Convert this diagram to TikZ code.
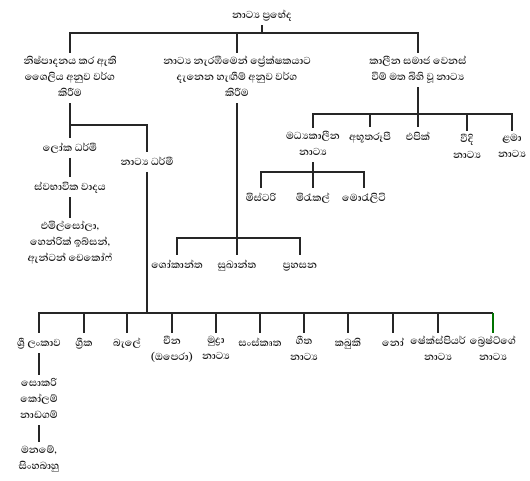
\documentclass[tikz,border=0pt]{standalone}
\usepackage{fontspec}
\newfontfamily\sinhalafont[Script=Sinhala]{Abhaya Libre}
\begin{document}
\begin{tikzpicture}[x=1pt,y=-1pt,
  t/.style={font=\sinhalafont\bfseries\fontsize{13}{16}\selectfont, align=center, inner sep=0pt, outer sep=3.5pt, anchor=north, text=black!90,
    execute at begin node={\rule{0pt}{10pt}}, execute at end node={\rule[-3pt]{0pt}{3pt}}},
  ln/.style={line width=1.5pt, draw=black!85},
  gln/.style={line width=1.5pt, draw=green!45!black}]
\useasboundingbox (0,0) rectangle (530,481);
\fill[white] (0,0) rectangle (530,481);
% nodes
\node[t] (top) at (262,5) {නාට්^^^^200dය ප්^^^^200dරභේද};
\node[t] (n1) at (70,53) {නිෂ්පාදනය කර ඇති\\ශෛලිය අනුව වර්ග\\කිරීම};
\node[t] (n2) at (237,53) {නාට්^^^^200dය නැරඹීමෙන් ප්^^^^200dරේක්ෂකයාට\\දැනෙන හැඟීම් අනුව වර්ග\\කිරීම};
\node[t] (n3) at (418,53) {කාලීන සමාජ වෙනස්\\වීම් මත බිහි වූ නාට්^^^^200dය};
\node[t] (lok) at (70,138) {ලෝක ධර්මී};
\node[t] (swa) at (70,177) {ස්වභාවික වාදය};
\node[t] (emil) at (70,218) {එමිල්සෝලා,\\හෙන්රික් ඉබ්සන්,\\ඇන්ටන් චෙකෝෆ්};
\node[t] (nd) at (147,152) {නාට්^^^^200dය ධර්මී};
\node[t] (med) at (313,128) {මධ්^^^^200dයකාලීන\\නාට්^^^^200dය};
\node[t] (abh) at (370,127) {අභූතරූපී};
\node[t] (epi) at (418,127) {එපික්};
\node[t] (vid) at (467,131) {වීදි\\නාට්^^^^200dය};
\node[t] (lam) at (512,131) {ළමා\\නාට්^^^^200dය};
\node[t] (mis) at (261,188) {මිස්ටරි};
\node[t] (mir) at (313,188) {මිරැකල්};
\node[t] (mor) at (364,188) {මොරැලිටි};
\node[t] (sok) at (177,255) {ශෝකාන්ත};
\node[t] (sub) at (237,255) {සුඛාන්ත};
\node[t] (pra) at (300,255) {ප්^^^^200dරහසන};
\node[t] (sri) at (39,333) {ශ්^^^^200dරී ලංකාව};
\node[t] (gri) at (84,333) {ග්^^^^200dරීක};
\node[t] (bal) at (127,333) {බැලේ};
\node[t] (chi) at (172,333) {චීන\\(ඔපෙරා)};
\node[t] (mud) at (216,333) {මුද්^^^^200dරා\\නාට්^^^^200dය};
\node[t] (san) at (260,333) {සංස්කෘත};
\node[t] (git) at (304,333) {ගීත\\නාට්^^^^200dය};
\node[t] (kab) at (348,333) {කබුකි};
\node[t] (nou) at (393,333) {නෝ};
\node[t] (she) at (438,333) {ෂේක්ස්පියර්\\නාට්^^^^200dය};
\node[t] (bre) at (493,333) {බ්^^^^200dරෙෂ්ට්ගේ\\නාට්^^^^200dය};
\node[t] (soc) at (39,375) {සොකරි\\කෝලම්\\නාඩගම්};
\node[t] (man) at (39,442) {මනමේ,\\සිංහබාහු};
% junctions
\coordinate (j0) at (262,33);
\coordinate (j1) at (70,125);
\coordinate (j2) at (237,238);
\coordinate (j3) at (147,313);
\coordinate (j4) at (418,114);
\coordinate (j5) at (313,172);
% connectors
\draw[ln] (top) -- (j0);
\draw[ln] (j0) -| (n1);
\draw[ln] (j0) -| (n2);
\draw[ln] (j0) -| (n3);
\draw[ln] (n1) -- (lok);
\draw[ln] (j1) -| (nd);
\draw[ln] (lok) -- (swa);
\draw[ln] (swa) -- (emil);
\draw[ln] (n2) -- (j2);
\draw[ln] (j2) -| (sok);
\draw[ln] (j2) -- (sub);
\draw[ln] (j2) -| (pra);
\draw[ln] (n3) -- (j4);
\draw[ln] (j4) -| (med);
\draw[ln] (j4) -| (abh);
\draw[ln] (j4) -- (epi);
\draw[ln] (j4) -| (vid);
\draw[ln] (j4) -| (lam);
\draw[ln] (med) -- (j5);
\draw[ln] (j5) -| (mis);
\draw[ln] (j5) -- (mir);
\draw[ln] (j5) -| (mor);
\draw[ln] (nd) -- (j3);
\foreach \c in {sri,gri,bal,chi,mud,san,git,kab,nou,she} \draw[ln] (j3) -| (\c);
\draw[ln] (j3) -| (bre.north |- j3);
\draw[gln] (bre.north |- j3) -- (bre);
\draw[ln] (sri) -- (soc);
\draw[ln] (soc) -- (man);
\end{tikzpicture}
\end{document}
